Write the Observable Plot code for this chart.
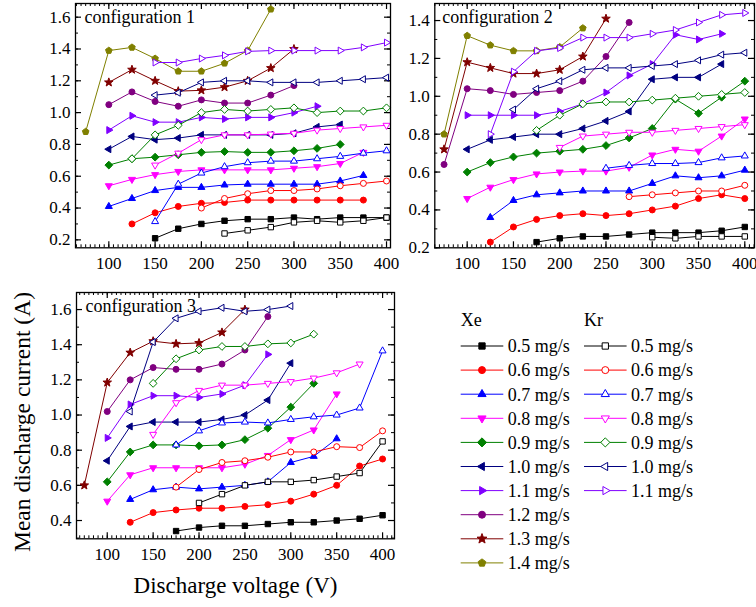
<!DOCTYPE html>
<html><head><meta charset="utf-8">
<script src="https://cdn.jsdelivr.net/npm/d3@7"></script>
<script src="https://cdn.jsdelivr.net/npm/@observablehq/plot@0.6"></script>
<style>
body{margin:0;background:#fff;}
#chart{position:relative;width:756px;height:607px;overflow:hidden;font-family:"Liberation Serif","Times New Roman",serif;background:#fff;}
#chart svg, #chart svg text{font-family:"Liberation Serif","Times New Roman",serif !important;}
.panel{position:absolute;}
</style></head><body><div id="chart"></div>
<script>
// ---------------- data ----------------
const rates = ["0.5","0.6","0.7","0.8","0.9","1.0","1.1","1.2","1.3","1.4"];
const rateColors = ["#000000","#ff0000","#0000ff","#ff00ff","#008000","#000080","#8000ff","#800080","#800000","#808000"];
const rateShapes = ["square","circle","triangleUp","triangleDown","diamond","triangleLeft","triangleRight","circle","star","pentagon"];
const voltageTicks = [100,150,200,250,300,350,400];
const currentTicks1 = [0.2,0.4,0.6,0.8,1.0,1.2,1.4,1.6];
const currentTicks2 = [0.2,0.4,0.6,0.8,1.0,1.2,1.4];
const currentTicks3 = [0.4,0.6,0.8,1.0,1.2,1.4,1.6];
const panelLabels = ["configuration 1","configuration 2","configuration 3"];
const gasLabels = ["Xe","Kr"];

// configuration 1
const c1Xe = {
 "0.5": [[150,0.21],[175,0.27],[200,0.30],[225,0.32],[250,0.33],[275,0.33],[300,0.34],[325,0.33],[350,0.34],[375,0.34],[400,0.34]],
 "0.6": [[125,0.30],[150,0.37],[175,0.41],[200,0.43],[225,0.435],[250,0.45],[275,0.45],[300,0.45],[325,0.45],[350,0.45],[375,0.45]],
 "0.7": [[100,0.41],[125,0.46],[150,0.51],[175,0.53],[200,0.53],[225,0.545],[250,0.55],[275,0.55],[300,0.55],[325,0.55],[350,0.57],[375,0.605]],
 "0.8": [[100,0.54],[125,0.58],[150,0.61],[175,0.63],[200,0.64],[225,0.64],[250,0.64],[275,0.64],[300,0.65],[325,0.66],[350,0.68],[375,0.75]],
 "0.9": [[100,0.67],[125,0.71],[150,0.72],[175,0.735],[200,0.75],[225,0.755],[250,0.75],[275,0.75],[300,0.76],[325,0.775],[350,0.80]],
 "1.0": [[100,0.77],[125,0.85],[150,0.83],[175,0.84],[200,0.86],[225,0.86],[250,0.86],[275,0.86],[300,0.87],[325,0.91],[350,0.925]],
 "1.1": [[100,0.89],[125,0.98],[150,0.94],[175,0.94],[200,0.97],[225,0.96],[250,0.97],[275,0.97],[300,1.0],[325,1.04]],
 "1.2": [[100,1.05],[125,1.13],[150,1.07],[175,1.04],[200,1.08],[225,1.06],[250,1.06],[275,1.11],[300,1.17]],
 "1.3": [[100,1.19],[125,1.27],[150,1.20],[175,1.135],[200,1.14],[225,1.16],[250,1.20],[275,1.28],[300,1.40]],
 "1.4": [[75,0.88],[100,1.39],[125,1.41],[150,1.34],[175,1.26],[200,1.26],[225,1.31],[250,1.39],[275,1.65]]
};
const c1Kr = {
 "0.5": [[225,0.24],[250,0.26],[275,0.28],[300,0.31],[325,0.32],[350,0.31],[375,0.32],[400,0.34]],
 "0.6": [[200,0.40],[225,0.46],[250,0.49],[275,0.51],[300,0.51],[325,0.52],[350,0.54],[375,0.555],[400,0.57]],
 "0.7": [[150,0.315],[175,0.55],[200,0.62],[225,0.66],[250,0.685],[275,0.695],[300,0.695],[325,0.71],[350,0.725],[375,0.745],[400,0.76]],
 "0.8": [[150,0.67],[175,0.745],[200,0.83],[225,0.86],[250,0.86],[275,0.865],[300,0.87],[325,0.89],[350,0.90],[375,0.91],[400,0.92]],
 "0.9": [[125,0.71],[150,0.86],[175,0.92],[200,1.0],[225,1.02],[250,1.01],[275,1.02],[300,1.03],[325,1.0],[350,1.01],[375,1.01],[400,1.03]],
 "1.0": [[150,1.11],[175,1.125],[200,1.19],[225,1.20],[250,1.20],[275,1.19],[300,1.19],[325,1.19],[350,1.20],[375,1.21],[400,1.22]],
 "1.1": [[150,1.315],[175,1.315],[200,1.34],[225,1.36],[250,1.385],[275,1.39],[300,1.39],[325,1.39],[350,1.39],[375,1.41],[400,1.44]]
};
// configuration 2
const c2Xe = {
 "0.5": [[175,0.23],[200,0.25],[225,0.26],[250,0.26],[275,0.27],[300,0.28],[325,0.28],[350,0.28],[375,0.29],[400,0.31]],
 "0.6": [[125,0.23],[150,0.31],[175,0.35],[200,0.37],[225,0.38],[250,0.37],[275,0.38],[300,0.40],[325,0.42],[350,0.46],[375,0.48],[400,0.46]],
 "0.7": [[125,0.36],[150,0.45],[175,0.48],[200,0.49],[225,0.50],[250,0.50],[275,0.50],[300,0.54],[325,0.58],[350,0.57],[375,0.58],[400,0.61]],
 "0.8": [[100,0.46],[125,0.52],[150,0.56],[175,0.59],[200,0.60],[225,0.605],[250,0.605],[275,0.625],[300,0.69],[325,0.72],[350,0.71],[375,0.79],[400,0.88]],
 "0.9": [[100,0.60],[125,0.65],[150,0.68],[175,0.70],[200,0.71],[225,0.72],[250,0.74],[275,0.78],[300,0.83],[325,0.985],[350,0.91],[375,0.995],[400,1.08]],
 "1.0": [[100,0.72],[125,0.77],[150,0.785],[175,0.80],[200,0.80],[225,0.83],[250,0.87],[275,0.92],[300,1.09],[325,1.10],[350,1.10],[375,1.17]],
 "1.1": [[100,0.90],[125,0.90],[150,0.90],[175,0.90],[200,0.92],[225,0.96],[250,1.02],[275,1.11],[300,1.17],[325,1.325],[350,1.30],[375,1.33]],
 "1.2": [[75,0.64],[100,1.04],[125,1.03],[150,1.01],[175,1.02],[200,1.03],[225,1.08],[250,1.21],[275,1.39]],
 "1.3": [[75,0.72],[100,1.18],[125,1.15],[150,1.12],[175,1.12],[200,1.14],[225,1.21],[250,1.41]],
 "1.4": [[75,0.80],[100,1.32],[125,1.27],[150,1.24],[175,1.24],[200,1.26],[225,1.36]]
};
const c2Kr = {
 "0.5": [[300,0.256],[325,0.25],[350,0.26],[375,0.26],[400,0.26]],
 "0.6": [[275,0.47],[300,0.48],[325,0.49],[350,0.50],[375,0.50],[400,0.53]],
 "0.7": [[250,0.62],[275,0.635],[300,0.645],[325,0.645],[350,0.65],[375,0.675],[400,0.685]],
 "0.8": [[200,0.73],[225,0.79],[250,0.80],[275,0.81],[300,0.81],[325,0.82],[350,0.83],[375,0.84],[400,0.85]],
 "0.9": [[175,0.82],[200,0.90],[225,0.96],[250,0.97],[275,0.97],[300,0.98],[325,0.99],[350,1.0],[375,1.01],[400,1.02]],
 "1.0": [[150,0.93],[175,1.04],[200,1.08],[225,1.14],[250,1.15],[275,1.15],[300,1.16],[325,1.17],[350,1.19],[375,1.22],[400,1.23]],
 "1.1": [[125,0.80],[150,1.13],[175,1.24],[200,1.255],[225,1.31],[250,1.31],[275,1.31],[300,1.33],[325,1.35],[350,1.39],[375,1.43],[400,1.44]]
};
// configuration 3
const c3Xe = {
 "0.5": [[175,0.34],[200,0.36],[225,0.37],[250,0.37],[275,0.38],[300,0.39],[325,0.39],[350,0.40],[375,0.41],[400,0.43]],
 "0.6": [[125,0.39],[150,0.445],[175,0.46],[200,0.47],[225,0.47],[250,0.48],[275,0.49],[300,0.51],[325,0.55],[350,0.60],[375,0.71],[400,0.75]],
 "0.7": [[125,0.52],[150,0.575],[175,0.59],[200,0.58],[225,0.59],[250,0.60],[275,0.62],[300,0.73],[325,0.765],[350,0.865]],
 "0.8": [[100,0.51],[125,0.66],[150,0.70],[175,0.70],[200,0.70],[225,0.70],[250,0.72],[275,0.77],[300,0.86],[325,0.915],[350,1.12]],
 "0.9": [[100,0.62],[125,0.79],[150,0.83],[175,0.83],[200,0.825],[225,0.83],[250,0.86],[275,0.925],[300,1.045],[325,1.18]],
 "1.0": [[100,0.74],[125,0.935],[150,0.96],[175,0.96],[200,0.96],[225,0.975],[250,1.0],[275,1.085],[300,1.295]],
 "1.1": [[100,0.87],[125,1.06],[150,1.11],[175,1.11],[200,1.10],[225,1.12],[250,1.17],[275,1.345]],
 "1.2": [[100,1.02],[125,1.20],[150,1.27],[175,1.26],[200,1.26],[225,1.29],[250,1.37],[275,1.56]],
 "1.3": [[75,0.60],[100,1.185],[125,1.355],[150,1.42],[175,1.405],[200,1.41],[225,1.47],[250,1.60]]
};
const c3Kr = {
 "0.5": [[200,0.50],[225,0.55],[250,0.60],[275,0.62],[300,0.62],[325,0.63],[350,0.65],[375,0.67],[400,0.85]],
 "0.6": [[175,0.59],[200,0.69],[225,0.73],[250,0.74],[275,0.76],[300,0.79],[325,0.79],[350,0.82],[375,0.815],[400,0.91]],
 "0.7": [[175,0.83],[200,0.91],[225,0.955],[250,0.96],[275,0.955],[300,0.975],[325,0.99],[350,1.0],[375,1.04],[400,1.365]],
 "0.8": [[150,0.89],[175,1.07],[200,1.14],[225,1.17],[250,1.17],[275,1.18],[300,1.19],[325,1.21],[350,1.24],[375,1.29]],
 "0.9": [[150,1.18],[175,1.32],[200,1.37],[225,1.39],[250,1.39],[275,1.405],[300,1.41],[325,1.46]],
 "1.0": [[125,1.02],[150,1.415],[175,1.55],[200,1.59],[225,1.61],[250,1.59],[275,1.60],[300,1.62]]
};

// ---------------- symbols ----------------
function symbolFrom(fn){ return {draw(ctx, size){ const r = Math.sqrt(size/Math.PI); fn(ctx, r); }}; }
function polygon(ctx, pts){ ctx.moveTo(pts[0][0], pts[0][1]); for (let k=1;k<pts.length;k++) ctx.lineTo(pts[k][0], pts[k][1]); ctx.closePath(); }
function regular(n, R, rot){ return d3.range(n).map(k => { const a = rot + 2*Math.PI*k/n; return [R*Math.cos(a), R*Math.sin(a)]; }); }
const shapes = {
  square: symbolFrom((c,r)=>{ const s=0.9*r; c.moveTo(-s,-s); c.lineTo(s,-s); c.lineTo(s,s); c.lineTo(-s,s); c.closePath(); }),
  circle: symbolFrom((c,r)=>{ c.moveTo(r,0); c.arc(0,0,r,0,2*Math.PI); }),
  triangleUp: symbolFrom((c,r)=>polygon(c, regular(3,1.35*r,-Math.PI/2))),
  triangleDown: symbolFrom((c,r)=>polygon(c, regular(3,1.35*r,Math.PI/2))),
  triangleLeft: symbolFrom((c,r)=>polygon(c, regular(3,1.35*r,Math.PI))),
  triangleRight: symbolFrom((c,r)=>polygon(c, regular(3,1.35*r,0))),
  diamond: symbolFrom((c,r)=>polygon(c, regular(4,1.3*r,-Math.PI/2))),
  pentagon: symbolFrom((c,r)=>polygon(c, regular(5,1.15*r,-Math.PI/2))),
  star: symbolFrom((c,r)=>polygon(c, d3.range(10).map(k=>{ const R = k%2 ? 0.62*r : 1.5*r; const a = -Math.PI/2 + Math.PI*k/5; return [R*Math.cos(a), R*Math.sin(a)]; })))
};

// ---------------- panels ----------------
const chart = document.getElementById("chart");
const FONT = '"Liberation Serif","Times New Roman",serif';

function makePanel(cfg){
  const {xe, kr, xDomain, yDomain, yTicks, label, width, height, mt, mr, mb, ml, left, top, labelDx} = cfg;
  const plotW = width - ml - mr, plotH = height - mt - mb;
  const xMinor = d3.range(Math.ceil(xDomain[0]/5)*5, xDomain[1], 5);
  const yMinor = d3.range(Math.ceil(yDomain[0]*10), Math.floor(yDomain[1]*10)+1).map(k=>k/10);
  const marks = [
    Plot.ruleX(xMinor, {insetTop: plotH-3, stroke:"black", strokeWidth:1}),
    Plot.ruleX(xMinor, {insetBottom: plotH-3, stroke:"black", strokeWidth:1}),
    Plot.ruleX(voltageTicks, {insetTop: plotH-6, stroke:"black", strokeWidth:1.2}),
    Plot.ruleX(voltageTicks, {insetBottom: plotH-6, stroke:"black", strokeWidth:1.2}),
    Plot.ruleY(yMinor, {insetRight: plotW-3, stroke:"black", strokeWidth:1}),
    Plot.ruleY(yMinor, {insetLeft: plotW-3, stroke:"black", strokeWidth:1}),
    Plot.ruleY(yTicks, {insetRight: plotW-6, stroke:"black", strokeWidth:1.2}),
    Plot.ruleY(yTicks, {insetLeft: plotW-6, stroke:"black", strokeWidth:1.2})
  ];
  for (const [gas, set] of [["Xe", xe], ["Kr", kr]]) {
    rates.forEach((rate, i) => {
      const d = set[rate]; if (!d) return;
      marks.push(Plot.line(d, {x: p=>p[0], y: p=>p[1], stroke: rateColors[i], strokeWidth: 1}));
      marks.push(Plot.dot(d, {x: p=>p[0], y: p=>p[1], symbol: shapes[rateShapes[i]], r: 3,
        fill: gas === "Xe" ? rateColors[i] : "white", stroke: rateColors[i], strokeWidth: 1}));
    });
  }
  marks.push(Plot.frame({stroke:"black", strokeWidth:1.3}));
  marks.push(Plot.text([label], {frameAnchor:"top-left", dx: labelDx, dy: 7, fontSize: 18, textAnchor:"start", lineAnchor:"top", fill:"black"}));
  const svg = Plot.plot({
    width, height, marginTop: mt, marginRight: mr, marginBottom: mb, marginLeft: ml,
    x: {domain: xDomain, ticks: voltageTicks, tickFormat: "d", tickSize: 0, tickPadding: 9, label: null},
    y: {domain: yDomain, ticks: yTicks, tickFormat: ".1f", tickSize: 0, tickPadding: 5, label: null},
    style: {fontFamily: FONT, fontSize: "17px", background: "transparent", overflow: "visible", color: "black"},
    marks
  });
  const div = document.createElement("div");
  div.className = "panel";
  div.style.left = left + "px"; div.style.top = top + "px";
  div.style.width = width + "px"; div.style.height = height + "px";
  div.appendChild(svg);
  chart.appendChild(div);
}

makePanel({xe: c1Xe, kr: c1Kr, xDomain:[64,404.3], yDomain:[0.15,1.686], yTicks: currentTicks1, label: panelLabels[0],
  width:395, height:275, mt:3, mr:5, mb:27.7, ml:75, left:0, top:0, labelDx:9});
makePanel({xe: c2Xe, kr: c2Kr, xDomain:[65,410.5], yDomain:[0.2,1.49], yTicks: currentTicks2, label: panelLabels[1],
  width:361, height:275, mt:3, mr:2, mb:27.7, ml:39.3, left:395, top:0, labelDx:7.5});
makePanel({xe: c3Xe, kr: c3Kr, xDomain:[66.5,413], yDomain:[0.296,1.697], yTicks: currentTicks3, label: panelLabels[2],
  width:400, height:300, mt:27, mr:6, mb:26.7, ml:76, left:0, top:265, labelDx:9});

// ---------------- titles & legend ----------------
const ov = d3.select(chart).append("svg")
  .attr("width", 756).attr("height", 607)
  .style("position","absolute").style("left",0).style("top",0).style("pointer-events","none")
  .style("font-family", FONT);
ov.append("text").attr("x", 235.5).attr("y", 593).attr("text-anchor","middle").attr("font-size", 23).text("Discharge voltage (V)");
ov.append("text").attr("transform","translate(30,422) rotate(-90)").attr("text-anchor","middle").attr("font-size", 23.5).text("Mean discharge current (A)");

const legendCols = [{gas:"Xe", x0:460.7, set: rates}, {gas:"Kr", x0:584, set: rates.slice(0,7)}];
legendCols.forEach((col, ci) => {
  ov.append("text").attr("x", col.x0).attr("y", 326).attr("font-size", 18).text(gasLabels[ci]);
  col.set.forEach((rate, i) => {
    const y = 346 + i*24.1;
    const color = rateColors[i];
    ov.append("line").attr("x1", col.x0).attr("x2", col.x0+42.6).attr("y1", y).attr("y2", y).attr("stroke", color).attr("stroke-width", 1);
    ov.append("path").attr("transform", `translate(${col.x0+21.3},${y})`)
      .attr("d", d3.symbol(shapes[rateShapes[i]], Math.PI*12.25)())
      .attr("fill", col.gas === "Xe" ? color : "white").attr("stroke", color).attr("stroke-width", 1);
    ov.append("text").attr("x", col.x0+47).attr("y", y).attr("dy","0.35em").attr("font-size", 18).text(rate + " mg/s");
  });
});
</script></body></html>
